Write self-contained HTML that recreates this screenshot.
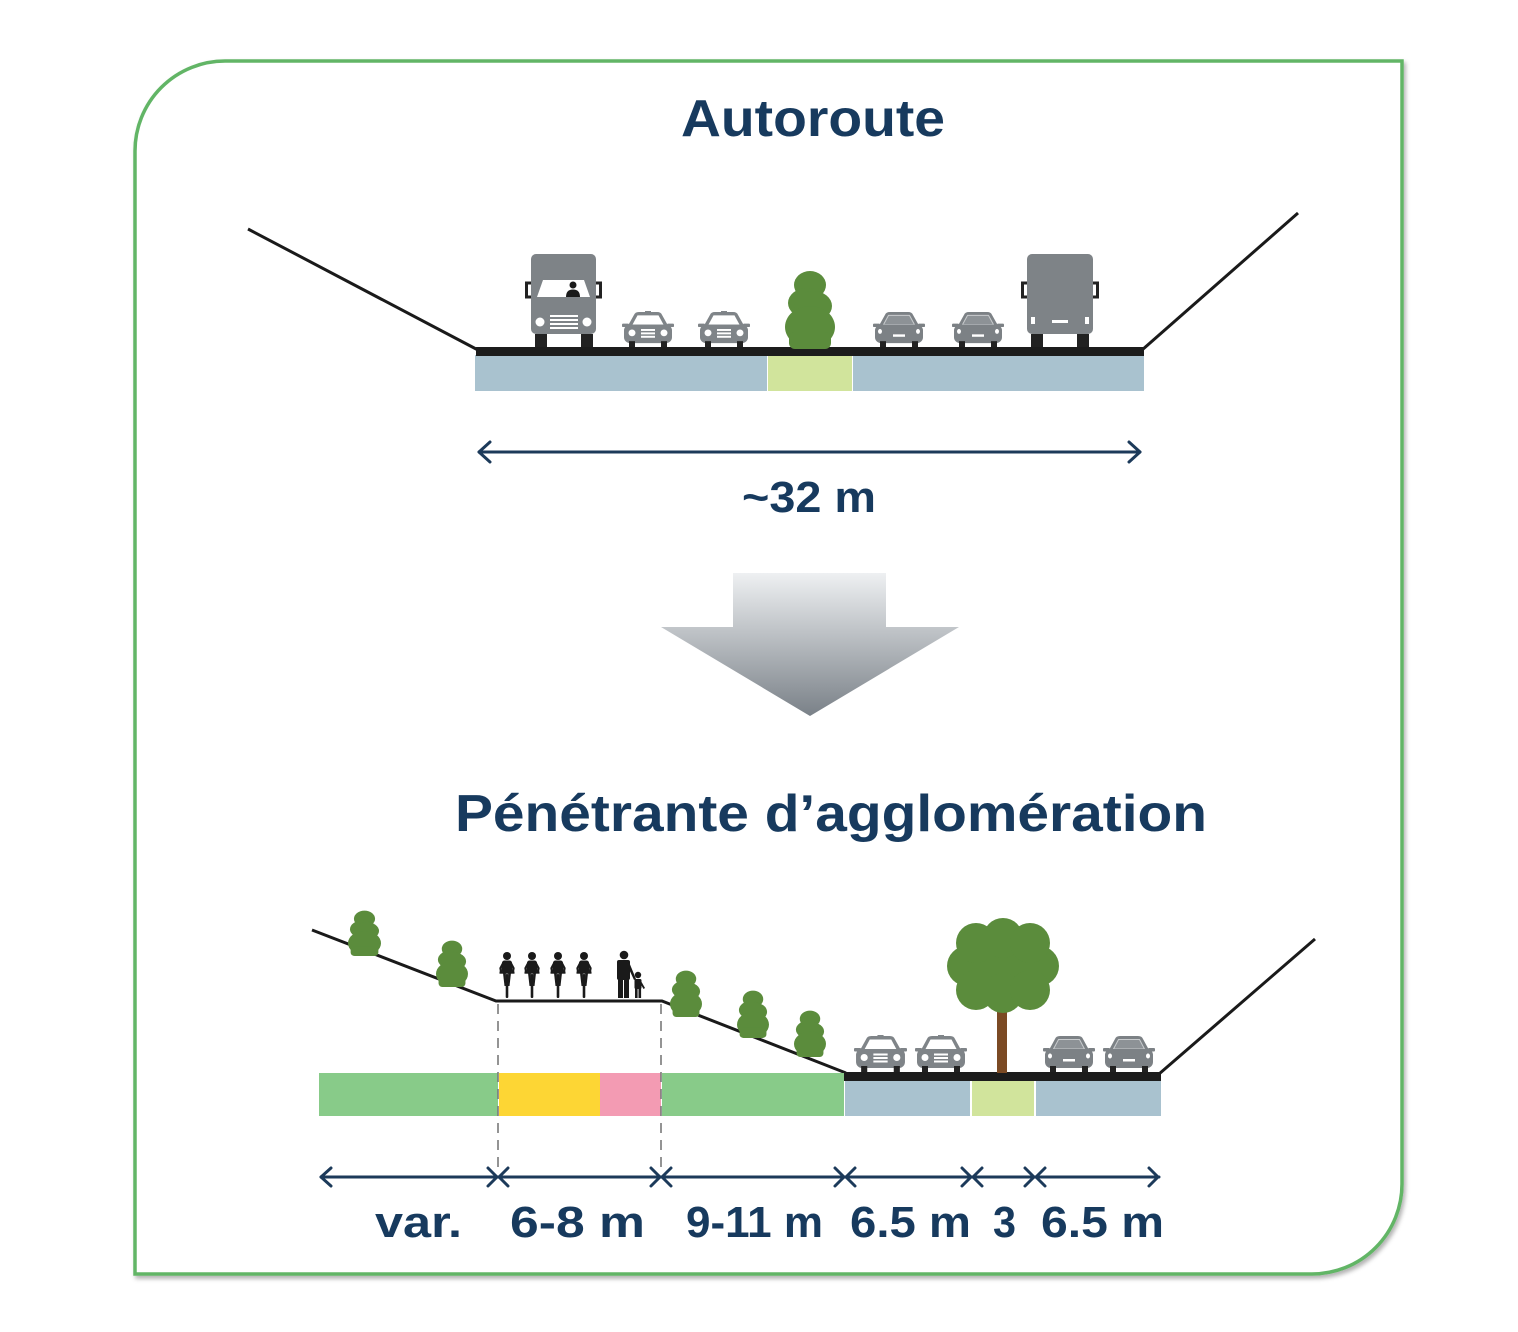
<!DOCTYPE html>
<html>
<head>
<meta charset="utf-8">
<style>
html,body{margin:0;padding:0;background:#fff;}
svg{display:block;}
text{font-family:"Liberation Sans",Arial,sans-serif;font-weight:bold;fill:#173a5e;}
</style>
</head>
<body>
<svg width="1518" height="1332" viewBox="0 0 1518 1332" xmlns="http://www.w3.org/2000/svg">
<defs>
  <filter id="sh" x="-5%" y="-5%" width="110%" height="110%">
    <feDropShadow dx="2" dy="3" stdDeviation="2" flood-color="#000" flood-opacity="0.3"/>
  </filter>
  <linearGradient id="ag" x1="0" y1="0" x2="0" y2="1">
    <stop offset="0" stop-color="#eef0f2"/>
    <stop offset="1" stop-color="#7a8188"/>
  </linearGradient>
  <!-- front car -->
  <symbol id="carF" viewBox="0 0 52 37" preserveAspectRatio="none">
    <rect x="23" y="0" width="6" height="3" fill="#7f8488"/>
    <path d="M12 4 Q13 1 17 1 L35 1 Q39 1 40 4 L46 15 L6 15 Z" fill="#7f8488"/>
    <path d="M15.5 4.5 L36.5 4.5 L41.5 14 L10.5 14 Z" fill="#fff"/>
    <rect x="0" y="13" width="7" height="3.5" rx="1" fill="#7f8488"/>
    <rect x="45" y="13" width="7" height="3.5" rx="1" fill="#7f8488"/>
    <rect x="2" y="14" width="48" height="19" rx="6" fill="#7f8488"/>
    <circle cx="10" cy="22.5" r="3.5" fill="#fff"/>
    <circle cx="42" cy="22.5" r="3.5" fill="#fff"/>
    <rect x="19" y="18.5" width="14" height="2" fill="#fff"/>
    <rect x="19" y="22" width="14" height="2" fill="#fff"/>
    <rect x="19" y="25.5" width="14" height="2" fill="#fff"/>
    <rect x="7" y="31" width="6" height="6" fill="#222"/>
    <rect x="39" y="31" width="6" height="6" fill="#222"/>
  </symbol>
  <!-- rear car -->
  <symbol id="carR" viewBox="0 0 52 37" preserveAspectRatio="none">
    <path d="M12 4 Q13 1 17 1 L35 1 Q39 1 40 4 L46 15 L6 15 Z" fill="#7c8185"/>
    <path d="M15.5 4.5 L36.5 4.5 L41.5 14 L10.5 14 Z" fill="#8d9296" stroke="#c9ccce" stroke-width="1"/>
    <rect x="0" y="13" width="7" height="3.5" rx="1" fill="#7c8185"/>
    <rect x="45" y="13" width="7" height="3.5" rx="1" fill="#7c8185"/>
    <rect x="2" y="14" width="48" height="19" rx="6" fill="#7c8185"/>
    <ellipse cx="7" cy="21" rx="2" ry="2.5" fill="#fff"/>
    <ellipse cx="45" cy="21" rx="2" ry="2.5" fill="#fff"/>
    <rect x="20" y="24" width="12" height="2.5" fill="#fff"/>
    <rect x="7" y="31" width="6" height="6" fill="#222"/>
    <rect x="39" y="31" width="6" height="6" fill="#222"/>
  </symbol>
  <!-- bush -->
  <symbol id="bush" viewBox="0 0 50 79" preserveAspectRatio="none">
    <g fill="#5b8c3c">
      <ellipse cx="25" cy="15" rx="16" ry="14"/>
      <ellipse cx="22" cy="33" rx="19" ry="15"/>
      <ellipse cx="28" cy="36" rx="19" ry="15"/>
      <ellipse cx="25" cy="57" rx="25" ry="21"/>
      <rect x="4" y="62" width="42" height="17" rx="6"/>
    </g>
  </symbol>
  <!-- cyclist -->
  <symbol id="cyc" viewBox="0 0 16 46" preserveAspectRatio="none">
    <g fill="#1a1a1a">
      <circle cx="8" cy="4" r="4"/>
      <rect x="3" y="8.5" width="10" height="13" rx="2.5"/>
      <path d="M3.5 10 L0.3 16 L1.2 21.5 L3.2 21.5 L2.8 16 L5 12 Z"/>
      <path d="M12.5 10 L15.7 16 L14.8 21.5 L12.8 21.5 L13.2 16 L11 12 Z"/>
      <rect x="0.5" y="19.5" width="15" height="2.2"/>
      <path d="M4 21 L5.5 34 L7.2 34 L6.8 21 Z"/>
      <path d="M12 21 L10.5 34 L8.8 34 L9.2 21 Z"/>
      <rect x="6.7" y="22" width="2.6" height="24" rx="1"/>
    </g>
  </symbol>
</defs>

<!-- frame -->
<path d="M135 1274 L135 151 A90 90 0 0 1 225 61 L1402 61 L1402 1184 A90 90 0 0 1 1312 1274 Z" fill="#fff" stroke="#62b566" stroke-width="3.5" filter="url(#sh)"/>

<!-- ========== AUTOROUTE ========== -->
<text x="681" y="136" font-size="52" textLength="264" lengthAdjust="spacingAndGlyphs">Autoroute</text>

<!-- slopes -->
<line x1="248" y1="229" x2="478" y2="350" stroke="#1a1a1a" stroke-width="3"/>
<line x1="1142" y1="350" x2="1298" y2="213" stroke="#1a1a1a" stroke-width="3"/>

<!-- bands -->
<rect x="475" y="355" width="292" height="36" fill="#a9c2cf"/>
<rect x="768" y="355" width="84" height="36" fill="#d1e49c"/>
<rect x="853" y="355" width="291" height="36" fill="#a9c2cf"/>
<rect x="476" y="347" width="668" height="9" fill="#1c1c1c"/>

<!-- truck left (front) -->
<g transform="translate(524,254)">
  <rect x="7" y="0" width="65" height="80" rx="5" fill="#7e8387"/>
  <path d="M7 29 L2.5 29 L2.5 43 L7 43" fill="none" stroke="#222" stroke-width="3"/>
  <path d="M72 29 L76.5 29 L76.5 43 L72 43" fill="none" stroke="#222" stroke-width="3"/>
  <path d="M19 26 L60 26 L66 43 L13 43 Z" fill="#fff"/>
  <circle cx="49" cy="31" r="3.5" fill="#1a1a1a"/>
  <path d="M42 43 Q42 35.5 49 35.5 Q56 35.5 56 43 Z" fill="#1a1a1a"/>
  <circle cx="16" cy="68" r="4.5" fill="#fff"/>
  <circle cx="63" cy="68" r="4.5" fill="#fff"/>
  <rect x="26" y="61" width="28" height="2" fill="#fff"/>
  <rect x="26" y="65" width="28" height="2" fill="#fff"/>
  <rect x="26" y="69" width="28" height="2" fill="#fff"/>
  <rect x="26" y="73" width="28" height="2" fill="#fff"/>
  <rect x="11" y="80" width="12" height="13" fill="#222"/>
  <rect x="57" y="80" width="12" height="13" fill="#222"/>
</g>

<!-- truck right (rear) -->
<g transform="translate(1020,254)">
  <rect x="7" y="0" width="66" height="80" rx="5" fill="#7e8387"/>
  <path d="M7 29 L2.5 29 L2.5 43 L7 43" fill="none" stroke="#222" stroke-width="3"/>
  <path d="M73 29 L77.5 29 L77.5 43 L73 43" fill="none" stroke="#222" stroke-width="3"/>
  <rect x="11" y="63" width="4" height="7" fill="#fff"/>
  <rect x="65" y="63" width="4" height="7" fill="#fff"/>
  <rect x="32" y="66" width="16" height="3" fill="#fff"/>
  <rect x="11" y="80" width="12" height="13" fill="#222"/>
  <rect x="57" y="80" width="12" height="13" fill="#222"/>
</g>

<use href="#carF" x="622" y="311" width="52" height="36"/>
<use href="#carF" x="698" y="311" width="52" height="36"/>
<use href="#carR" x="873" y="311" width="52" height="36"/>
<use href="#carR" x="952" y="311" width="52" height="36"/>
<use href="#bush" x="785" y="270" width="50" height="79"/>

<!-- dimension ~32 m -->
<g stroke="#1c3a5a" stroke-width="3" fill="none" stroke-linecap="round" stroke-linejoin="round">
  <line x1="479" y1="452" x2="1140" y2="452"/>
  <polyline points="490,442 479,452 490,462"/>
  <polyline points="1129,442 1140,452 1129,462"/>
</g>
<text x="742" y="512" font-size="44" textLength="134" lengthAdjust="spacingAndGlyphs">~32 m</text>

<!-- big arrow -->
<polygon points="733,573 886,573 886,627 959,627 810,716 661,627 733,627" fill="url(#ag)"/>

<!-- ========== PENETRANTE ========== -->
<text x="455" y="831" font-size="52" textLength="752" lengthAdjust="spacingAndGlyphs">Pénétrante d’agglomération</text>

<!-- slopes -->
<polyline points="312,930 496,1001 662,1001 846,1073" fill="none" stroke="#1a1a1a" stroke-width="3" stroke-linejoin="miter"/>
<line x1="1159" y1="1074" x2="1315" y2="939" stroke="#1a1a1a" stroke-width="3"/>

<!-- bands -->
<rect x="319" y="1073" width="179" height="43" fill="#88cb89"/>
<rect x="499" y="1073" width="101" height="43" fill="#fdd634"/>
<rect x="600" y="1073" width="61" height="43" fill="#f39bb3"/>
<rect x="662" y="1073" width="182" height="43" fill="#88cb89"/>
<rect x="845" y="1080" width="125" height="36" fill="#a9c2cf"/>
<rect x="972" y="1080" width="62" height="36" fill="#d1e49c"/>
<rect x="1036" y="1080" width="125" height="36" fill="#a9c2cf"/>
<rect x="844" y="1072" width="317" height="9" fill="#1c1c1c"/>

<!-- dashed guides -->
<g stroke="#7a7a7a" stroke-width="1.6" stroke-dasharray="10 7">
  <line x1="498" y1="1004" x2="498" y2="1170"/>
  <line x1="661" y1="1004" x2="661" y2="1170"/>
</g>

<!-- bushes on slopes -->
<use href="#bush" x="348" y="910" width="33" height="46"/>
<use href="#bush" x="436" y="940" width="32" height="47"/>
<use href="#bush" x="670" y="970" width="32" height="47"/>
<use href="#bush" x="737" y="990" width="32" height="48"/>
<use href="#bush" x="794" y="1010" width="32" height="47"/>

<!-- cyclists -->
<use href="#cyc" x="499" y="952" width="16" height="46"/>
<use href="#cyc" x="524" y="952" width="16" height="46"/>
<use href="#cyc" x="550" y="952" width="16" height="46"/>
<use href="#cyc" x="576" y="952" width="16" height="46"/>

<!-- pedestrians -->
<g fill="#1a1a1a">
  <circle cx="624" cy="955" r="4.3"/>
  <rect x="617" y="960" width="13" height="20" rx="2"/>
  <rect x="618" y="978" width="5" height="20"/>
  <rect x="624" y="978" width="5" height="20"/>
  <path d="M629 962 L636 979 L634 980 L628 967 Z"/>
  <circle cx="638" cy="975" r="3.2"/>
  <rect x="634.5" y="979" width="7" height="10" rx="1.5"/>
  <rect x="635" y="988" width="2.6" height="10"/>
  <rect x="638.5" y="988" width="2.6" height="10"/>
  <path d="M641 981 L645 988 L643.5 989 L640 983 Z"/>
</g>

<!-- big tree -->
<rect x="997" y="1000" width="10" height="73" fill="#7b4a24"/>
<g fill="#5b8c3c">
  <ellipse cx="1003" cy="966" rx="46" ry="40"/>
  <circle cx="1003" cy="938" r="20"/>
  <circle cx="967" cy="966" r="20"/>
  <circle cx="1039" cy="966" r="20"/>
  <circle cx="1003" cy="993" r="20"/>
  <circle cx="976" cy="943" r="20"/>
  <circle cx="1030" cy="943" r="20"/>
  <circle cx="976" cy="990" r="20"/>
  <circle cx="1030" cy="990" r="20"/>
</g>

<!-- cars bottom -->
<use href="#carF" x="854" y="1035" width="53" height="37"/>
<use href="#carF" x="915" y="1035" width="52" height="37"/>
<use href="#carR" x="1043" y="1035" width="52" height="37"/>
<use href="#carR" x="1103" y="1035" width="52" height="37"/>

<!-- dimension arrows bottom -->
<g stroke="#1c3a5a" stroke-width="3" fill="none" stroke-linecap="round" stroke-linejoin="round">
  <line x1="321" y1="1177" x2="1159" y2="1177"/>
  <polyline points="331,1168 321,1177 331,1186"/>
  <polyline points="488,1168 497,1177 488,1186"/>
  <polyline points="508,1168 499,1177 508,1186"/>
  <polyline points="651,1168 660,1177 651,1186"/>
  <polyline points="671,1168 662,1177 671,1186"/>
  <polyline points="835,1168 844,1177 835,1186"/>
  <polyline points="855,1168 846,1177 855,1186"/>
  <polyline points="962,1168 971,1177 962,1186"/>
  <polyline points="982,1168 973,1177 982,1186"/>
  <polyline points="1025,1168 1034,1177 1025,1186"/>
  <polyline points="1045,1168 1036,1177 1045,1186"/>
  <polyline points="1149,1168 1158,1177 1149,1186"/>
</g>

<g font-size="44">
  <text x="375" y="1237" textLength="87" lengthAdjust="spacingAndGlyphs">var.</text>
  <text x="510" y="1237" textLength="135" lengthAdjust="spacingAndGlyphs">6-8 m</text>
  <text x="686" y="1237" textLength="137" lengthAdjust="spacingAndGlyphs">9-11 m</text>
  <text x="850" y="1237" textLength="121" lengthAdjust="spacingAndGlyphs">6.5 m</text>
  <text x="993" y="1237" textLength="23" lengthAdjust="spacingAndGlyphs">3</text>
  <text x="1041" y="1237" textLength="123" lengthAdjust="spacingAndGlyphs">6.5 m</text>
</g>
</svg>
</body>
</html>
